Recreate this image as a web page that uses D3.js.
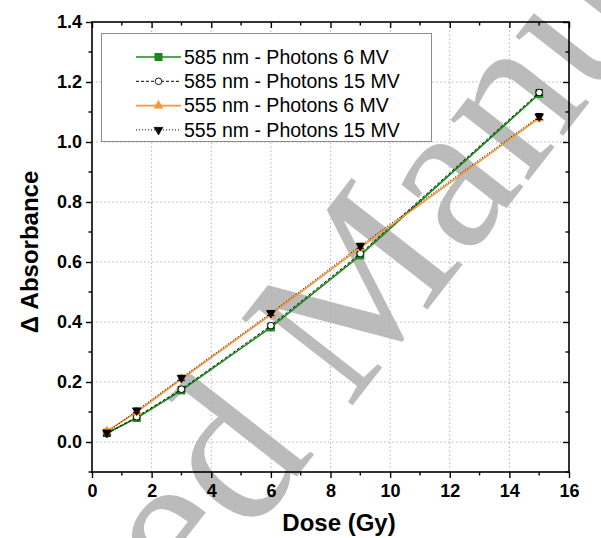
<!DOCTYPE html>
<html>
<head>
<meta charset="utf-8">
<script src="https://cdn.jsdelivr.net/npm/d3@7"></script>
<style>
  body { margin: 0; background: #fff; }
  svg { display: block; font-family: Arial, "Liberation Sans", sans-serif; }
</style>
</head>
<body>
<svg id="chart" width="601" height="538"></svg>
<script>
const doses = [0.5, 1.5, 3, 6, 9, 15];
const green6 = [0.030, 0.080, 0.172, 0.382, 0.622, 1.160];
const green15 = [0.027, 0.084, 0.176, 0.388, 0.628, 1.165];
const orange6 = [0.036, 0.100, 0.210, 0.425, 0.648, 1.080];
const orange15 = [0.031, 0.105, 0.214, 0.430, 0.654, 1.085];
const errs = [0.008, 0.008, 0.008, 0.008, 0.008, 0.010];
const seriesNames = ['585 nm - Photons 6 MV', '585 nm - Photons 15 MV', '555 nm - Photons 6 MV', '555 nm - Photons 15 MV'];
const xTicks = [0, 2, 4, 6, 8, 10, 12, 14, 16];
const yTicks = [0.0, 0.2, 0.4, 0.6, 0.8, 1.0, 1.2, 1.4];

const green = '#168c16', orange = '#fa9632';
const series = [
  {name: seriesNames[0], values: green6, color: green, width: 1.6, dash: null, marker: 'square', fill: green, stroke: green},
  {name: seriesNames[1], values: green15, color: '#000', width: 1, dash: '3,2', marker: 'circle', fill: '#fff', stroke: '#000'},
  {name: seriesNames[2], values: orange6, color: orange, width: 1.6, dash: null, marker: 'triangle', fill: orange, stroke: orange},
  {name: seriesNames[3], values: orange15, color: '#000', width: 1, dash: '1,2', marker: 'triangleDown', fill: '#000', stroke: '#000'}
];

const svg = d3.select('#chart');
const x = d3.scaleLinear().domain([0, 16]).range([92, 569]);
const y = d3.scaleLinear().domain([-0.1, 1.4]).range([472, 22]);

// grid
const grid = svg.append('g').attr('stroke', '#b4b4b4').attr('stroke-dasharray', '1.5,2.5').attr('stroke-width', 1);
grid.selectAll('.gx').data(xTicks.slice(1, -1)).enter().append('line')
  .attr('x1', d => x(d)).attr('x2', d => x(d)).attr('y1', y(-0.1)).attr('y2', y(1.4));
grid.selectAll('.gy').data(yTicks.slice(0, -1)).enter().append('line')
  .attr('y1', d => y(d)).attr('y2', d => y(d)).attr('x1', x(0)).attr('x2', x(16));

// watermark (the reference is an accepted-manuscript page)
svg.append('text')
  .attr('transform', 'translate(345,335) rotate(-52)')
  .attr('text-anchor', 'middle')
  .attr('dominant-baseline', 'middle')
  .style('font-family', '"Liberation Serif", serif')
  .style('font-size', '215px')
  .attr('fill', '#b4b4b4')
  .attr('opacity', 0.9)
  .text('Accepted Manuscript');

// axes
const axBottom = d3.axisBottom(x).tickValues(xTicks).tickSize(6).tickPadding(6).tickFormat(d3.format('d'));
const axLeft = d3.axisLeft(y).tickValues(yTicks).tickSize(6).tickPadding(4).tickFormat(d3.format('.1f'));
const axTop = d3.axisTop(x).tickValues(xTicks).tickSize(-6).tickFormat('');
const axRight = d3.axisRight(y).tickValues(yTicks).tickSize(-6).tickFormat('');
const minorX = d3.range(1, 16, 2), minorY = d3.range(-0.1, 1.35, 0.2);

function styleAxis(g) {
  g.select('.domain').remove();
  g.selectAll('.tick line').attr('stroke', '#000').attr('stroke-width', 1.4);
  g.selectAll('.tick text').attr('fill', '#000').style('font-size', '18px').style('font-weight', 'bold');
}
svg.append('g').attr('transform', `translate(0,${y(-0.1)})`).call(axBottom).call(styleAxis);
svg.append('g').attr('transform', `translate(${x(0)},0)`).call(axLeft).call(styleAxis);
svg.append('g').attr('transform', `translate(0,${y(1.4)})`).call(axTop).call(styleAxis);
svg.append('g').attr('transform', `translate(${x(16)},0)`).call(axRight).call(styleAxis);
svg.append('rect').attr('x', x(0)).attr('y', y(1.4)).attr('width', x(16) - x(0)).attr('height', y(-0.1) - y(1.4))
  .attr('fill', 'none').attr('stroke', '#000').attr('stroke-width', 1.6);

// minor ticks
const minor = svg.append('g').attr('stroke', '#000').attr('stroke-width', 1.4);
minor.selectAll('.mxb').data(minorX).enter().append('line')
  .attr('x1', d => x(d)).attr('x2', d => x(d)).attr('y1', y(-0.1)).attr('y2', y(-0.1) + 3.5);
minor.selectAll('.mxt').data(minorX).enter().append('line')
  .attr('x1', d => x(d)).attr('x2', d => x(d)).attr('y1', y(1.4)).attr('y2', y(1.4) + 3.5);
minor.selectAll('.myl').data(minorY).enter().append('line')
  .attr('y1', d => y(d)).attr('y2', d => y(d)).attr('x1', x(0)).attr('x2', x(0) - 3.5);
minor.selectAll('.myr').data(minorY).enter().append('line')
  .attr('y1', d => y(d)).attr('y2', d => y(d)).attr('x1', x(16)).attr('x2', x(16) - 3.5);

// axis titles
svg.append('text').attr('x', 339).attr('y', 531).attr('text-anchor', 'middle')
  .style('font-size', '24px').style('font-weight', 'bold').text('Dose (Gy)');
svg.append('text').attr('transform', 'translate(38,252) rotate(-90)').attr('text-anchor', 'middle')
  .style('font-size', '24px').style('font-weight', 'bold').text('\u0394 Absorbance');

// markers
function drawMarker(g, s, cx, cy) {
  if (s.marker === 'square') {
    g.append('rect').attr('x', cx - 3.5).attr('y', cy - 3.5).attr('width', 7).attr('height', 7)
      .attr('fill', s.fill).attr('stroke', s.stroke);
  } else if (s.marker === 'circle') {
    g.append('circle').attr('cx', cx).attr('cy', cy).attr('r', 3.3)
      .attr('fill', s.fill).attr('stroke', s.stroke).attr('stroke-width', 0.9);
  } else {
    const sym = d3.symbol().type(d3.symbolTriangle).size(34);
    g.append('path').attr('d', sym())
      .attr('transform', `translate(${cx},${cy})` + (s.marker === 'triangleDown' ? ' rotate(180)' : ''))
      .attr('fill', s.fill).attr('stroke', s.stroke).attr('stroke-width', 0.6);
  }
}

const line = d3.line().x((d, i) => x(doses[i])).y(d => y(d));
const plot = svg.append('g');
series.forEach(s => {
  plot.append('path').datum(s.values).attr('d', line)
    .attr('fill', 'none').attr('stroke', s.color).attr('stroke-width', s.width)
    .attr('stroke-dasharray', s.dash);
  s.values.forEach((v, i) => {
    const cx = x(doses[i]);
    const eb = plot.append('g').attr('stroke', s.stroke).attr('stroke-width', 1);
    eb.append('line').attr('x1', cx).attr('x2', cx).attr('y1', y(v - errs[i])).attr('y2', y(v + errs[i]));
    eb.append('line').attr('x1', cx - 3.5).attr('x2', cx + 3.5).attr('y1', y(v - errs[i])).attr('y2', y(v - errs[i]));
    eb.append('line').attr('x1', cx - 3.5).attr('x2', cx + 3.5).attr('y1', y(v + errs[i])).attr('y2', y(v + errs[i]));
    drawMarker(plot, s, cx, y(v));
  });
});

// legend
const legend = svg.append('g');
legend.append('rect').attr('x', 101.5).attr('y', 33.5).attr('width', 330).attr('height', 108)
  .attr('fill', '#fff').attr('stroke', '#8c8c8c').attr('stroke-width', 1);
series.forEach((s, i) => {
  const ly = 57 + i * 24.3;
  legend.append('line').attr('x1', 136).attr('x2', 181).attr('y1', ly).attr('y2', ly)
    .attr('stroke', s.color).attr('stroke-width', s.width).attr('stroke-dasharray', s.dash);
  drawMarker(legend, s, 158.5, ly);
  legend.append('text').attr('x', 184).attr('y', ly).attr('dy', '0.35em')
    .style('font-size', '19.5px').text(s.name);
});
</script>
</body>
</html>
